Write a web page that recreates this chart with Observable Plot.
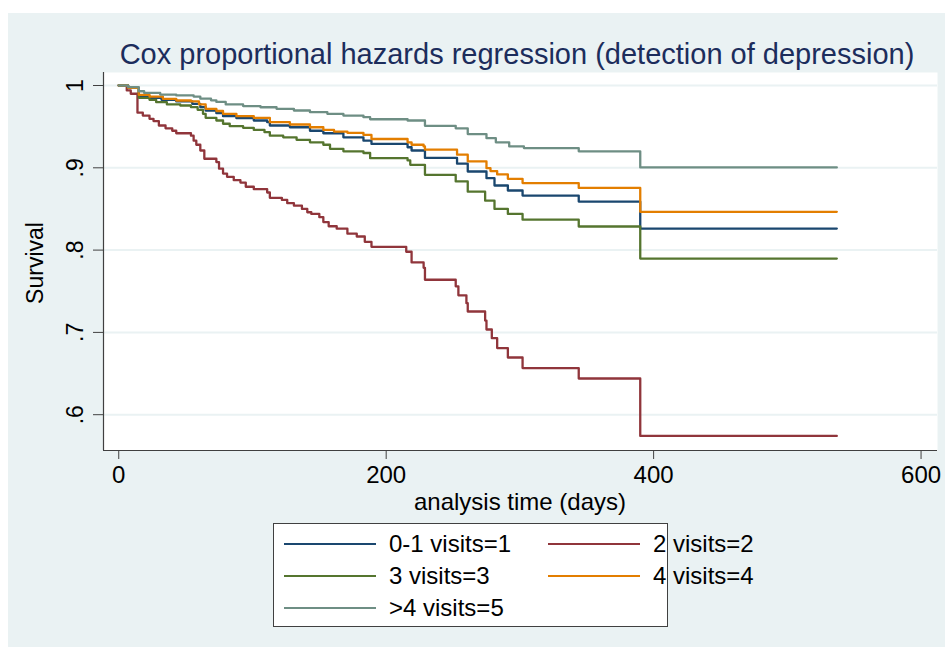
<!DOCTYPE html>
<html>
<head>
<meta charset="utf-8">
<script src="https://cdn.jsdelivr.net/npm/d3@7"></script>
<script src="https://cdn.jsdelivr.net/npm/@observablehq/plot@0.6"></script>
<style>
  html, body { margin: 0; padding: 0; background: #ffffff; width: 945px; height: 647px; overflow: hidden; }
  body { font-family: "Liberation Sans", Arial, sans-serif; position: relative; }
  #bg { position: absolute; left: 8px; top: 13px; width: 937px; height: 634px; background: #eaf2f3; }
  #chart { position: absolute; left: 0; top: 0; }
  #ann { position: absolute; left: 0; top: 0; pointer-events: none; }
  #legend { position: absolute; left: 273px; top: 523px; width: 395px; height: 104px; background: #ffffff;
            border: 1px solid #404040; box-sizing: border-box; }
  .item { position: absolute; font-size: 24px; color: #000; line-height: 26px; white-space: nowrap; }
  .swatch { position: absolute; height: 0; border-top: 2px solid; }
</style>
</head>
<body>
<div id="bg"></div>
<div id="chart"></div>
<svg id="ann" width="945" height="647"></svg>
<div id="legend"></div>
<script>
// ---- data (analysis time in days, survival) ----
const groups = ["0-1 visits=1", "2 visits=2", "3 visits=3", "4 visits=4", ">4 visits=5"];
const colors = ["#1a476f", "#90353b", "#55752f", "#e37e00", "#6e8e84"];
const endTime = 537;

const visits01 = [[0,1],[7,0.997],[15,0.987],[23,0.985],[32,0.9826],[43,0.9806],[55,0.9777],[61,0.9737],[65,0.9696],[73,0.9664],[78,0.9627],[88,0.9603],[101,0.9575],[111,0.9554],[113,0.9514],[128,0.9493],[143,0.945],[153,0.942],[168,0.937],[183,0.933],[189,0.929],[216,0.925],[219,0.921],[229,0.912],[253,0.905],[261,0.8955],[275,0.8874],[281,0.8785],[291,0.8724],[302,0.8663],[344,0.859],[390,0.8262]];
const visits2 = [[0,1],[6,0.994],[9,0.990],[14,0.967],[18,0.9635],[23,0.9595],[26,0.9568],[30,0.9514],[35,0.948],[40,0.945],[43,0.942],[54,0.939],[56,0.933],[58,0.928],[61,0.921],[64,0.911],[73,0.907],[75,0.899],[78,0.893],[81,0.889],[86,0.885],[91,0.882],[95,0.877],[101,0.874],[111,0.870],[113,0.8635],[122,0.861],[126,0.857],[131,0.854],[137,0.850],[141,0.846],[144,0.844],[150,0.840],[153,0.834],[157,0.829],[163,0.826],[171,0.820],[178,0.8165],[184,0.810],[189,0.804],[215,0.798],[219,0.785],[228,0.7785],[229,0.764],[252,0.756],[254,0.745],[260,0.7355],[261,0.7254],[274,0.7144],[275,0.7035],[279,0.693],[283,0.681],[291,0.6695],[302,0.6567],[344,0.6440],[390,0.5742]];
const visits3 = [[0,1],[7,0.997],[15,0.985],[23,0.9826],[28,0.9797],[36,0.977],[46,0.9757],[54,0.9737],[59,0.9705],[63,0.9656],[65,0.9607],[73,0.9575],[78,0.9535],[83,0.9506],[93,0.9486],[101,0.946],[109,0.9433],[113,0.939],[123,0.937],[133,0.934],[143,0.931],[153,0.928],[158,0.923],[168,0.920],[183,0.918],[188,0.9117],[216,0.909],[218,0.9036],[229,0.8915],[252,0.8834],[261,0.871],[274,0.860],[281,0.850],[291,0.844],[302,0.837],[344,0.8287],[390,0.7897]];
const visits4 = [[0,1],[7,0.997],[15,0.9887],[23,0.9866],[33,0.9838],[43,0.9818],[54,0.9806],[60,0.977],[65,0.9717],[73,0.969],[78,0.9656],[88,0.9627],[101,0.9607],[113,0.9554],[128,0.9526],[143,0.9493],[153,0.946],[161,0.944],[171,0.9425],[183,0.940],[189,0.935],[216,0.931],[219,0.928],[228,0.926],[229,0.922],[253,0.916],[261,0.9077],[275,0.8995],[278,0.896],[283,0.892],[291,0.8866],[302,0.8815],[344,0.8755],[390,0.8465]];
const visits5 = [[0,1],[7,0.998],[15,0.993],[19,0.991],[31,0.989],[43,0.988],[56,0.9866],[61,0.984],[69,0.982],[73,0.980],[80,0.977],[93,0.975],[106,0.9736],[118,0.9717],[131,0.9696],[143,0.9676],[156,0.9656],[168,0.9635],[183,0.9615],[188,0.959],[216,0.9575],[229,0.951],[252,0.948],[261,0.941],[275,0.936],[282,0.931],[292,0.926],[303,0.924],[344,0.920],[390,0.9005]];

const xTicks = [0, 200, 400, 600];
const yTicks = [0.6, 0.7, 0.8, 0.9, 1];
const yTickLabels = [".6", ".7", ".8", ".9", "1"];

const titleText = "Cox proportional hazards regression (detection of depression)";
const xLabel = "analysis time (days)";
const yLabel = "Survival";

// ---- build table ----
const seriesList = [visits01, visits2, visits3, visits4, visits5];
const rows = [];
seriesList.forEach((pts, i) => {
  pts.forEach(([t, s]) => rows.push({t, s, group: groups[i]}));
  rows.push({t: endTime, s: pts[pts.length - 1][1], group: groups[i]});
});

const xDomain = [-11.4, 612.3];
const yDomain = [0.5565, 1.0158];
const font = "'Liberation Sans', Arial, sans-serif";

const chart = Plot.plot({
  width: 945,
  height: 647,
  marginLeft: 103,
  marginRight: 8,
  marginTop: 72,
  marginBottom: 197,
  style: {background: "transparent", fontFamily: font, color: "#000", overflow: "visible"},
  x: {domain: xDomain},
  y: {domain: yDomain},
  color: {domain: groups, range: colors},
  marks: [
    Plot.frame({fill: "#ffffff", stroke: null}),
    Plot.gridY(yTicks, {stroke: "#eaf2f3", strokeOpacity: 1, strokeWidth: 2}),
    Plot.line(rows, {x: "t", y: "s", z: "group", stroke: "group", curve: "step-after", strokeWidth: 2.3}),
    Plot.ruleY([yDomain[0]], {stroke: "#404040", strokeWidth: 1.2}),
    Plot.ruleX([xDomain[0]], {stroke: "#404040", strokeWidth: 1.2}),
    Plot.axisX(xTicks, {tickSize: 9, tickPadding: 6, fontSize: 24, stroke: "#404040", label: null, tickFormat: d => String(d)}),
    Plot.axisY(yTicks, {tickSize: 10, tickPadding: 11, tickRotate: -90, fontSize: 23, stroke: "#404040", label: null,
                        tickFormat: d => yTickLabels[yTicks.indexOf(d)]})
  ]
});
document.getElementById("chart").appendChild(chart);

// ---- title and axis titles ----
const ann = d3.select("#ann");
ann.append("text")
  .attr("x", 517).attr("y", 64)
  .attr("text-anchor", "middle")
  .attr("font-family", font).attr("font-size", 29)
  .attr("fill", "#1c2d5c")
  .text(titleText);
ann.append("text")
  .attr("x", 520).attr("y", 510)
  .attr("text-anchor", "middle")
  .attr("font-family", font).attr("font-size", 24)
  .attr("fill", "#000")
  .text(xLabel);
ann.append("text")
  .attr("transform", "translate(43,263) rotate(-90)")
  .attr("text-anchor", "middle")
  .attr("font-family", font).attr("font-size", 23)
  .attr("fill", "#000")
  .text(yLabel);

// ---- legend ----
const legend = document.getElementById("legend");
const legendOrder = [0, 1, 2, 3, 4];
legendOrder.forEach((gi, k) => {
  const col = k % 2, row = Math.floor(k / 2);
  const lineLeft = col === 0 ? 10 : 274;
  const textLeft = col === 0 ? 115 : 379;
  const cy = 20 + row * 32;
  const sw = document.createElement("div");
  sw.className = "swatch";
  sw.style.left = lineLeft + "px";
  sw.style.width = "92px";
  sw.style.top = (cy - 1) + "px";
  sw.style.borderColor = colors[gi];
  legend.appendChild(sw);
  const tx = document.createElement("div");
  tx.className = "item";
  tx.style.left = textLeft + "px";
  tx.style.top = (cy - 13) + "px";
  tx.textContent = groups[gi];
  legend.appendChild(tx);
});
</script>
</body>
</html>
